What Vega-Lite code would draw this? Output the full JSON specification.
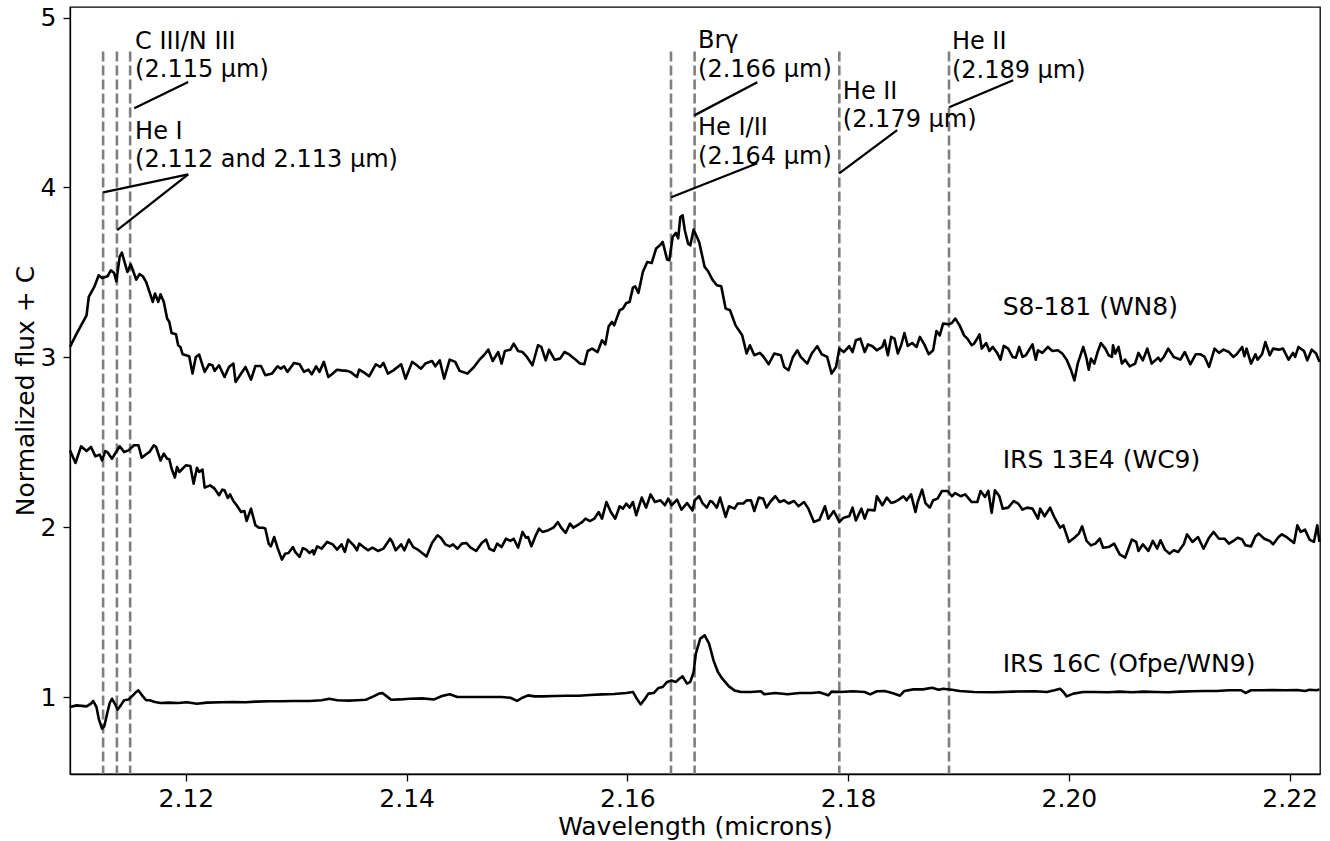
{
  "$schema": "https://vega.github.io/schema/vega-lite/v6.json",
  "width": 1250,
  "height": 767,
  "autosize": {"type": "none"},
  "padding": {"left": 70, "top": 7, "right": 10, "bottom": 67},
  "background": "white",
  "config": {
    "font": "DejaVu Sans",
    "view": {"stroke": "#000", "strokeWidth": 1.3},
    "axis": {"grid": false, "domainColor": "#000", "domainWidth": 1.3, "tickColor": "#000", "tickWidth": 1.3, "tickSize": 7, "labelFontSize": 25, "titleFontSize": 25, "labelColor": "#000", "titleColor": "#000", "titleFontWeight": "normal", "labelFont": "DejaVu Sans", "titleFont": "DejaVu Sans", "labelFlush": false}
  },
  "datasets": {
    "s8": [
{"x":2.1095,"y":3.061},{"x":2.1101,"y":3.139},{"x":2.1110,"y":3.247},{"x":2.1112,"y":3.355},{"x":2.1117,"y":3.414},{"x":2.1121,"y":3.483},{"x":2.1124,"y":3.467},{"x":2.1129,"y":3.477},{"x":2.1132,"y":3.512},{"x":2.1135,"y":3.496},{"x":2.1137,"y":3.447},{"x":2.1140,"y":3.591},{"x":2.1142,"y":3.616},{"x":2.1144,"y":3.571},{"x":2.1147,"y":3.502},{"x":2.1150,"y":3.547},{"x":2.1152,"y":3.512},{"x":2.1155,"y":3.457},{"x":2.1158,"y":3.489},{"x":2.1161,"y":3.477},{"x":2.1164,"y":3.443},{"x":2.1167,"y":3.385},{"x":2.1170,"y":3.326},{"x":2.1172,"y":3.375},{"x":2.1175,"y":3.326},{"x":2.1177,"y":3.371},{"x":2.1180,"y":3.326},{"x":2.1183,"y":3.228},{"x":2.1185,"y":3.208},{"x":2.1187,"y":3.143},{"x":2.1191,"y":3.135},{"x":2.1193,"y":3.071},{"x":2.1195,"y":3.061},{"x":2.1197,"y":3.018},{"x":2.1203,"y":3.006},{"x":2.1206,"y":2.904},{"x":2.1209,"y":3.002},{"x":2.1212,"y":3.016},{"x":2.1217,"y":2.914},{"x":2.1221,"y":2.959},{"x":2.1224,"y":2.953},{"x":2.1226,"y":2.920},{"x":2.1230,"y":2.953},{"x":2.1235,"y":2.884},{"x":2.1239,"y":2.943},{"x":2.1243,"y":2.963},{"x":2.1245,"y":2.855},{"x":2.1249,"y":2.894},{"x":2.1254,"y":2.943},{"x":2.1259,"y":2.868},{"x":2.1263,"y":2.949},{"x":2.1268,"y":2.949},{"x":2.1272,"y":2.894},{"x":2.1278,"y":2.904},{"x":2.1283,"y":2.947},{"x":2.1286,"y":2.933},{"x":2.1289,"y":2.947},{"x":2.1292,"y":2.914},{"x":2.1298,"y":2.967},{"x":2.1303,"y":2.959},{"x":2.1307,"y":2.914},{"x":2.1311,"y":2.927},{"x":2.1314,"y":2.900},{"x":2.1318,"y":2.947},{"x":2.1321,"y":2.914},{"x":2.1325,"y":2.973},{"x":2.1329,"y":2.884},{"x":2.1333,"y":2.904},{"x":2.1337,"y":2.927},{"x":2.1341,"y":2.923},{"x":2.1346,"y":2.920},{"x":2.1349,"y":2.914},{"x":2.1355,"y":2.884},{"x":2.1357,"y":2.927},{"x":2.1362,"y":2.908},{"x":2.1366,"y":2.888},{"x":2.1372,"y":2.959},{"x":2.1376,"y":2.943},{"x":2.1379,"y":2.967},{"x":2.1383,"y":2.904},{"x":2.1388,"y":2.923},{"x":2.1395,"y":2.959},{"x":2.1399,"y":2.874},{"x":2.1405,"y":2.973},{"x":2.1408,"y":2.959},{"x":2.1413,"y":2.933},{"x":2.1417,"y":2.963},{"x":2.1423,"y":2.978},{"x":2.1426,"y":2.947},{"x":2.1430,"y":2.982},{"x":2.1434,"y":2.874},{"x":2.1439,"y":2.986},{"x":2.1444,"y":2.973},{"x":2.1448,"y":2.920},{"x":2.1455,"y":2.904},{"x":2.1461,"y":2.943},{"x":2.1466,"y":2.986},{"x":2.1470,"y":3.012},{"x":2.1474,"y":3.045},{"x":2.1478,"y":2.978},{"x":2.1483,"y":3.031},{"x":2.1486,"y":2.963},{"x":2.1489,"y":3.037},{"x":2.1494,"y":3.045},{"x":2.1497,"y":3.080},{"x":2.1501,"y":3.037},{"x":2.1505,"y":3.031},{"x":2.1509,"y":3.002},{"x":2.1514,"y":2.953},{"x":2.1519,"y":3.071},{"x":2.1522,"y":3.061},{"x":2.1526,"y":2.982},{"x":2.1529,"y":3.045},{"x":2.1534,"y":2.986},{"x":2.1539,"y":2.992},{"x":2.1543,"y":3.031},{"x":2.1547,"y":3.018},{"x":2.1552,"y":2.992},{"x":2.1557,"y":2.963},{"x":2.1561,"y":2.959},{"x":2.1564,"y":3.037},{"x":2.1568,"y":3.051},{"x":2.1573,"y":3.031},{"x":2.1577,"y":3.100},{"x":2.1580,"y":3.076},{"x":2.1583,"y":3.182},{"x":2.1586,"y":3.208},{"x":2.1588,"y":3.188},{"x":2.1593,"y":3.277},{"x":2.1596,"y":3.287},{"x":2.1599,"y":3.320},{"x":2.1602,"y":3.326},{"x":2.1605,"y":3.410},{"x":2.1607,"y":3.418},{"x":2.1610,"y":3.379},{"x":2.1614,"y":3.502},{"x":2.1618,"y":3.561},{"x":2.1622,"y":3.555},{"x":2.1626,"y":3.640},{"x":2.1630,"y":3.663},{"x":2.1632,"y":3.679},{"x":2.1636,"y":3.575},{"x":2.1638,"y":3.571},{"x":2.1641,"y":3.708},{"x":2.1644,"y":3.732},{"x":2.1646,"y":3.700},{"x":2.1648,"y":3.826},{"x":2.1650,"y":3.836},{"x":2.1652,"y":3.748},{"x":2.1655,"y":3.669},{"x":2.1657,"y":3.659},{"x":2.1660,"y":3.752},{"x":2.1665,"y":3.679},{"x":2.1670,"y":3.532},{"x":2.1673,"y":3.508},{"x":2.1677,"y":3.457},{"x":2.1681,"y":3.424},{"x":2.1685,"y":3.418},{"x":2.1689,"y":3.287},{"x":2.1693,"y":3.277},{"x":2.1698,"y":3.188},{"x":2.1704,"y":3.130},{"x":2.1708,"y":3.022},{"x":2.1711,"y":3.071},{"x":2.1715,"y":3.012},{"x":2.1720,"y":3.026},{"x":2.1723,"y":3.006},{"x":2.1728,"y":2.959},{"x":2.1733,"y":3.022},{"x":2.1739,"y":3.012},{"x":2.1742,"y":2.943},{"x":2.1746,"y":2.924},{"x":2.1750,"y":3.002},{"x":2.1754,"y":3.041},{"x":2.1757,"y":3.002},{"x":2.1763,"y":2.963},{"x":2.1767,"y":3.022},{"x":2.1772,"y":3.065},{"x":2.1776,"y":3.018},{"x":2.1781,"y":3.002},{"x":2.1785,"y":2.904},{"x":2.1789,"y":2.943},{"x":2.1792,"y":3.051},{"x":2.1796,"y":3.031},{"x":2.1801,"y":3.065},{"x":2.1804,"y":3.031},{"x":2.1807,"y":3.100},{"x":2.1811,"y":3.110},{"x":2.1815,"y":3.031},{"x":2.1818,"y":3.076},{"x":2.1822,"y":3.065},{"x":2.1826,"y":3.041},{"x":2.1831,"y":3.061},{"x":2.1833,"y":3.100},{"x":2.1836,"y":3.012},{"x":2.1839,"y":3.120},{"x":2.1842,"y":3.110},{"x":2.1845,"y":3.022},{"x":2.1848,"y":3.071},{"x":2.1851,"y":3.143},{"x":2.1854,"y":3.067},{"x":2.1858,"y":3.084},{"x":2.1862,"y":3.061},{"x":2.1865,"y":3.120},{"x":2.1869,"y":3.076},{"x":2.1873,"y":3.018},{"x":2.1877,"y":3.041},{"x":2.1880,"y":3.155},{"x":2.1883,"y":3.129},{"x":2.1886,"y":3.198},{"x":2.1891,"y":3.194},{"x":2.1894,"y":3.202},{"x":2.1897,"y":3.228},{"x":2.1901,"y":3.188},{"x":2.1905,"y":3.129},{"x":2.1908,"y":3.110},{"x":2.1912,"y":3.071},{"x":2.1914,"y":3.080},{"x":2.1916,"y":3.100},{"x":2.1919,"y":3.135},{"x":2.1921,"y":3.051},{"x":2.1925,"y":3.084},{"x":2.1928,"y":3.037},{"x":2.1931,"y":3.061},{"x":2.1935,"y":3.026},{"x":2.1938,"y":2.986},{"x":2.1941,"y":3.067},{"x":2.1945,"y":3.051},{"x":2.1949,"y":3.002},{"x":2.1952,"y":2.998},{"x":2.1955,"y":3.061},{"x":2.1958,"y":3.002},{"x":2.1961,"y":3.012},{"x":2.1967,"y":3.076},{"x":2.1970,"y":2.986},{"x":2.1972,"y":3.041},{"x":2.1976,"y":3.026},{"x":2.1981,"y":3.061},{"x":2.1985,"y":3.037},{"x":2.1990,"y":3.041},{"x":2.1994,"y":3.022},{"x":2.1998,"y":2.986},{"x":2.2002,"y":2.923},{"x":2.2005,"y":2.864},{"x":2.2008,"y":2.963},{"x":2.2013,"y":3.061},{"x":2.2016,"y":2.992},{"x":2.2018,"y":2.927},{"x":2.2020,"y":2.992},{"x":2.2023,"y":2.963},{"x":2.2026,"y":3.031},{"x":2.2029,"y":3.084},{"x":2.2033,"y":3.051},{"x":2.2036,"y":3.012},{"x":2.2039,"y":3.002},{"x":2.2040,"y":3.071},{"x":2.2042,"y":3.022},{"x":2.2045,"y":3.061},{"x":2.2048,"y":2.963},{"x":2.2051,"y":2.986},{"x":2.2055,"y":2.947},{"x":2.2060,"y":2.963},{"x":2.2063,"y":3.026},{"x":2.2067,"y":2.982},{"x":2.2071,"y":3.051},{"x":2.2075,"y":2.963},{"x":2.2081,"y":2.998},{"x":2.2083,"y":2.978},{"x":2.2086,"y":3.002},{"x":2.2090,"y":3.051},{"x":2.2095,"y":3.002},{"x":2.2101,"y":2.986},{"x":2.2105,"y":3.031},{"x":2.2110,"y":2.959},{"x":2.2115,"y":3.018},{"x":2.2119,"y":3.018},{"x":2.2123,"y":3.002},{"x":2.2127,"y":2.943},{"x":2.2132,"y":3.051},{"x":2.2136,"y":3.026},{"x":2.2140,"y":3.045},{"x":2.2145,"y":3.031},{"x":2.2149,"y":3.002},{"x":2.2152,"y":3.018},{"x":2.2157,"y":3.061},{"x":2.2159,"y":3.006},{"x":2.2161,"y":3.051},{"x":2.2165,"y":2.963},{"x":2.2169,"y":3.018},{"x":2.2171,"y":2.986},{"x":2.2175,"y":3.018},{"x":2.2178,"y":3.090},{"x":2.2182,"y":3.012},{"x":2.2185,"y":3.051},{"x":2.2190,"y":3.045},{"x":2.2194,"y":3.051},{"x":2.2199,"y":2.986},{"x":2.2203,"y":3.026},{"x":2.2205,"y":3.002},{"x":2.2208,"y":3.061},{"x":2.2213,"y":3.037},{"x":2.2216,"y":2.982},{"x":2.2220,"y":3.045},{"x":2.2224,"y":3.022},{"x":2.2227,"y":2.973}
    ],
    "e4": [
{"x":2.1095,"y":2.452},{"x":2.1100,"y":2.378},{"x":2.1105,"y":2.476},{"x":2.1110,"y":2.448},{"x":2.1114,"y":2.472},{"x":2.1118,"y":2.417},{"x":2.1122,"y":2.427},{"x":2.1124,"y":2.393},{"x":2.1127,"y":2.448},{"x":2.1129,"y":2.441},{"x":2.1133,"y":2.403},{"x":2.1140,"y":2.476},{"x":2.1144,"y":2.443},{"x":2.1148,"y":2.452},{"x":2.1153,"y":2.482},{"x":2.1157,"y":2.482},{"x":2.1160,"y":2.409},{"x":2.1164,"y":2.429},{"x":2.1167,"y":2.443},{"x":2.1171,"y":2.482},{"x":2.1173,"y":2.472},{"x":2.1177,"y":2.393},{"x":2.1180,"y":2.433},{"x":2.1183,"y":2.403},{"x":2.1185,"y":2.400},{"x":2.1187,"y":2.345},{"x":2.1190,"y":2.292},{"x":2.1192,"y":2.354},{"x":2.1194,"y":2.325},{"x":2.1200,"y":2.364},{"x":2.1204,"y":2.360},{"x":2.1207,"y":2.256},{"x":2.1210,"y":2.350},{"x":2.1212,"y":2.325},{"x":2.1215,"y":2.339},{"x":2.1217,"y":2.233},{"x":2.1222,"y":2.246},{"x":2.1226,"y":2.227},{"x":2.1230,"y":2.188},{"x":2.1233,"y":2.221},{"x":2.1235,"y":2.217},{"x":2.1238,"y":2.172},{"x":2.1240,"y":2.193},{"x":2.1243,"y":2.154},{"x":2.1246,"y":2.129},{"x":2.1250,"y":2.089},{"x":2.1253,"y":2.095},{"x":2.1255,"y":2.036},{"x":2.1259,"y":2.109},{"x":2.1263,"y":2.011},{"x":2.1266,"y":1.997},{"x":2.1270,"y":1.997},{"x":2.1272,"y":1.991},{"x":2.1275,"y":1.903},{"x":2.1277,"y":1.887},{"x":2.1280,"y":1.942},{"x":2.1283,"y":1.879},{"x":2.1287,"y":1.809},{"x":2.1290,"y":1.844},{"x":2.1293,"y":1.848},{"x":2.1297,"y":1.883},{"x":2.1299,"y":1.854},{"x":2.1303,"y":1.825},{"x":2.1306,"y":1.877},{"x":2.1309,"y":1.868},{"x":2.1312,"y":1.848},{"x":2.1315,"y":1.864},{"x":2.1316,"y":1.840},{"x":2.1319,"y":1.887},{"x":2.1323,"y":1.874},{"x":2.1328,"y":1.913},{"x":2.1333,"y":1.899},{"x":2.1337,"y":1.868},{"x":2.1341,"y":1.899},{"x":2.1344,"y":1.854},{"x":2.1347,"y":1.927},{"x":2.1352,"y":1.893},{"x":2.1355,"y":1.864},{"x":2.1357,"y":1.903},{"x":2.1361,"y":1.883},{"x":2.1365,"y":1.864},{"x":2.1369,"y":1.879},{"x":2.1374,"y":1.860},{"x":2.1379,"y":1.874},{"x":2.1385,"y":1.932},{"x":2.1387,"y":1.913},{"x":2.1390,"y":1.864},{"x":2.1395,"y":1.899},{"x":2.1398,"y":1.864},{"x":2.1402,"y":1.927},{"x":2.1406,"y":1.883},{"x":2.1410,"y":1.868},{"x":2.1414,"y":1.848},{"x":2.1418,"y":1.828},{"x":2.1423,"y":1.907},{"x":2.1428,"y":1.952},{"x":2.1431,"y":1.938},{"x":2.1435,"y":1.899},{"x":2.1439,"y":1.887},{"x":2.1442,"y":1.899},{"x":2.1446,"y":1.873},{"x":2.1450,"y":1.903},{"x":2.1454,"y":1.907},{"x":2.1458,"y":1.879},{"x":2.1463,"y":1.860},{"x":2.1468,"y":1.907},{"x":2.1472,"y":1.927},{"x":2.1475,"y":1.873},{"x":2.1479,"y":1.860},{"x":2.1482,"y":1.903},{"x":2.1486,"y":1.883},{"x":2.1490,"y":1.932},{"x":2.1494,"y":1.919},{"x":2.1497,"y":1.932},{"x":2.1501,"y":1.879},{"x":2.1505,"y":1.972},{"x":2.1508,"y":1.938},{"x":2.1510,"y":1.942},{"x":2.1513,"y":1.887},{"x":2.1517,"y":1.952},{"x":2.1520,"y":1.991},{"x":2.1523,"y":1.972},{"x":2.1528,"y":1.981},{"x":2.1533,"y":1.997},{"x":2.1537,"y":2.030},{"x":2.1540,"y":1.997},{"x":2.1544,"y":1.966},{"x":2.1548,"y":2.021},{"x":2.1551,"y":1.997},{"x":2.1556,"y":2.017},{"x":2.1559,"y":2.030},{"x":2.1562,"y":2.050},{"x":2.1566,"y":2.036},{"x":2.1570,"y":2.050},{"x":2.1574,"y":2.089},{"x":2.1577,"y":2.050},{"x":2.1581,"y":2.148},{"x":2.1585,"y":2.089},{"x":2.1589,"y":2.050},{"x":2.1593,"y":2.123},{"x":2.1596,"y":2.109},{"x":2.1599,"y":2.139},{"x":2.1602,"y":2.115},{"x":2.1605,"y":2.148},{"x":2.1608,"y":2.070},{"x":2.1613,"y":2.174},{"x":2.1617,"y":2.115},{"x":2.1621,"y":2.193},{"x":2.1625,"y":2.148},{"x":2.1630,"y":2.158},{"x":2.1634,"y":2.129},{"x":2.1637,"y":2.168},{"x":2.1640,"y":2.129},{"x":2.1645,"y":2.162},{"x":2.1649,"y":2.103},{"x":2.1654,"y":2.142},{"x":2.1659,"y":2.099},{"x":2.1661,"y":2.158},{"x":2.1665,"y":2.182},{"x":2.1668,"y":2.142},{"x":2.1672,"y":2.115},{"x":2.1675,"y":2.154},{"x":2.1677,"y":2.148},{"x":2.1681,"y":2.115},{"x":2.1684,"y":2.174},{"x":2.1689,"y":2.060},{"x":2.1692,"y":2.123},{"x":2.1697,"y":2.109},{"x":2.1700,"y":2.139},{"x":2.1705,"y":2.139},{"x":2.1708,"y":2.158},{"x":2.1712,"y":2.158},{"x":2.1715,"y":2.095},{"x":2.1719,"y":2.174},{"x":2.1723,"y":2.168},{"x":2.1726,"y":2.115},{"x":2.1730,"y":2.154},{"x":2.1734,"y":2.182},{"x":2.1738,"y":2.148},{"x":2.1742,"y":2.158},{"x":2.1746,"y":2.139},{"x":2.1751,"y":2.154},{"x":2.1755,"y":2.123},{"x":2.1760,"y":2.148},{"x":2.1764,"y":2.109},{"x":2.1769,"y":2.031},{"x":2.1774,"y":2.044},{"x":2.1779,"y":2.123},{"x":2.1782,"y":2.050},{"x":2.1787,"y":2.095},{"x":2.1792,"y":2.031},{"x":2.1796,"y":2.056},{"x":2.1801,"y":2.064},{"x":2.1804,"y":2.115},{"x":2.1807,"y":2.040},{"x":2.1812,"y":2.109},{"x":2.1815,"y":2.050},{"x":2.1818,"y":2.103},{"x":2.1824,"y":2.099},{"x":2.1826,"y":2.182},{"x":2.1831,"y":2.129},{"x":2.1835,"y":2.174},{"x":2.1839,"y":2.142},{"x":2.1842,"y":2.148},{"x":2.1846,"y":2.162},{"x":2.1850,"y":2.182},{"x":2.1853,"y":2.158},{"x":2.1857,"y":2.193},{"x":2.1861,"y":2.089},{"x":2.1863,"y":2.148},{"x":2.1867,"y":2.221},{"x":2.1870,"y":2.142},{"x":2.1874,"y":2.115},{"x":2.1877,"y":2.158},{"x":2.1881,"y":2.168},{"x":2.1885,"y":2.213},{"x":2.1890,"y":2.213},{"x":2.1894,"y":2.182},{"x":2.1897,"y":2.201},{"x":2.1902,"y":2.182},{"x":2.1906,"y":2.193},{"x":2.1912,"y":2.148},{"x":2.1917,"y":2.148},{"x":2.1920,"y":2.213},{"x":2.1924,"y":2.178},{"x":2.1927,"y":2.213},{"x":2.1930,"y":2.084},{"x":2.1933,"y":2.217},{"x":2.1937,"y":2.182},{"x":2.1940,"y":2.109},{"x":2.1945,"y":2.115},{"x":2.1950,"y":2.154},{"x":2.1954,"y":2.139},{"x":2.1958,"y":2.103},{"x":2.1962,"y":2.115},{"x":2.1967,"y":2.109},{"x":2.1972,"y":2.050},{"x":2.1974,"y":2.109},{"x":2.1978,"y":2.064},{"x":2.1983,"y":2.115},{"x":2.1987,"y":2.056},{"x":2.1992,"y":1.997},{"x":2.1995,"y":2.011},{"x":2.2000,"y":1.913},{"x":2.2005,"y":1.938},{"x":2.2009,"y":1.962},{"x":2.2012,"y":2.005},{"x":2.2016,"y":1.919},{"x":2.2020,"y":1.893},{"x":2.2024,"y":1.903},{"x":2.2028,"y":1.932},{"x":2.2031,"y":1.879},{"x":2.2036,"y":1.883},{"x":2.2041,"y":1.903},{"x":2.2046,"y":1.840},{"x":2.2051,"y":1.821},{"x":2.2057,"y":1.927},{"x":2.2061,"y":1.913},{"x":2.2063,"y":1.860},{"x":2.2067,"y":1.899},{"x":2.2072,"y":1.860},{"x":2.2076,"y":1.919},{"x":2.2080,"y":1.874},{"x":2.2083,"y":1.923},{"x":2.2087,"y":1.868},{"x":2.2091,"y":1.844},{"x":2.2095,"y":1.864},{"x":2.2099,"y":1.854},{"x":2.2104,"y":1.899},{"x":2.2107,"y":1.958},{"x":2.2112,"y":1.913},{"x":2.2117,"y":1.942},{"x":2.2122,"y":1.873},{"x":2.2127,"y":1.938},{"x":2.2131,"y":1.972},{"x":2.2136,"y":1.932},{"x":2.2141,"y":1.932},{"x":2.2145,"y":1.903},{"x":2.2149,"y":1.919},{"x":2.2153,"y":1.938},{"x":2.2157,"y":1.927},{"x":2.2160,"y":1.893},{"x":2.2165,"y":1.887},{"x":2.2169,"y":1.946},{"x":2.2172,"y":1.962},{"x":2.2177,"y":1.932},{"x":2.2182,"y":1.919},{"x":2.2185,"y":1.899},{"x":2.2190,"y":1.942},{"x":2.2193,"y":1.958},{"x":2.2198,"y":1.938},{"x":2.2204,"y":1.907},{"x":2.2207,"y":2.011},{"x":2.2210,"y":1.972},{"x":2.2214,"y":1.985},{"x":2.2218,"y":1.927},{"x":2.2222,"y":1.913},{"x":2.2225,"y":2.011},{"x":2.2227,"y":1.913}
    ],
    "c16": [
{"x":2.1095,"y":0.941},{"x":2.1101,"y":0.951},{"x":2.1110,"y":0.945},{"x":2.1114,"y":0.961},{"x":2.1116,"y":0.977},{"x":2.1119,"y":0.941},{"x":2.1121,"y":0.873},{"x":2.1124,"y":0.814},{"x":2.1126,"y":0.827},{"x":2.1129,"y":0.912},{"x":2.1131,"y":0.965},{"x":2.1133,"y":0.990},{"x":2.1136,"y":0.957},{"x":2.1138,"y":0.926},{"x":2.1141,"y":0.951},{"x":2.1144,"y":0.981},{"x":2.1148,"y":0.986},{"x":2.1152,"y":1.010},{"x":2.1155,"y":1.030},{"x":2.1157,"y":1.039},{"x":2.1161,"y":1.004},{"x":2.1164,"y":0.981},{"x":2.1167,"y":0.981},{"x":2.1172,"y":0.971},{"x":2.1177,"y":0.965},{"x":2.1184,"y":0.967},{"x":2.1193,"y":0.965},{"x":2.1201,"y":0.969},{"x":2.1210,"y":0.961},{"x":2.1219,"y":0.967},{"x":2.1232,"y":0.969},{"x":2.1243,"y":0.971},{"x":2.1254,"y":0.969},{"x":2.1264,"y":0.973},{"x":2.1275,"y":0.975},{"x":2.1286,"y":0.975},{"x":2.1297,"y":0.977},{"x":2.1312,"y":0.977},{"x":2.1323,"y":0.981},{"x":2.1330,"y":0.990},{"x":2.1337,"y":0.981},{"x":2.1348,"y":0.979},{"x":2.1355,"y":0.981},{"x":2.1363,"y":0.984},{"x":2.1370,"y":1.004},{"x":2.1375,"y":1.020},{"x":2.1378,"y":1.024},{"x":2.1382,"y":1.004},{"x":2.1386,"y":0.984},{"x":2.1394,"y":0.986},{"x":2.1403,"y":0.990},{"x":2.1414,"y":0.992},{"x":2.1425,"y":0.986},{"x":2.1432,"y":1.006},{"x":2.1439,"y":1.016},{"x":2.1446,"y":1.000},{"x":2.1454,"y":1.000},{"x":2.1465,"y":1.000},{"x":2.1476,"y":1.000},{"x":2.1486,"y":1.000},{"x":2.1494,"y":0.996},{"x":2.1500,"y":0.977},{"x":2.1505,"y":0.996},{"x":2.1510,"y":1.010},{"x":2.1516,"y":1.004},{"x":2.1523,"y":1.004},{"x":2.1534,"y":1.006},{"x":2.1545,"y":1.008},{"x":2.1556,"y":1.008},{"x":2.1566,"y":1.012},{"x":2.1577,"y":1.016},{"x":2.1588,"y":1.018},{"x":2.1599,"y":1.024},{"x":2.1605,"y":1.030},{"x":2.1608,"y":0.996},{"x":2.1612,"y":0.957},{"x":2.1616,"y":0.990},{"x":2.1619,"y":1.020},{"x":2.1624,"y":1.024},{"x":2.1628,"y":1.053},{"x":2.1632,"y":1.059},{"x":2.1636,"y":1.089},{"x":2.1640,"y":1.098},{"x":2.1644,"y":1.089},{"x":2.1647,"y":1.108},{"x":2.1650,"y":1.122},{"x":2.1654,"y":1.079},{"x":2.1657,"y":1.089},{"x":2.1660,"y":1.147},{"x":2.1662,"y":1.255},{"x":2.1666,"y":1.344},{"x":2.1670,"y":1.363},{"x":2.1674,"y":1.314},{"x":2.1678,"y":1.216},{"x":2.1682,"y":1.147},{"x":2.1686,"y":1.108},{"x":2.1692,"y":1.063},{"x":2.1697,"y":1.039},{"x":2.1703,"y":1.030},{"x":2.1712,"y":1.030},{"x":2.1721,"y":1.034},{"x":2.1724,"y":1.016},{"x":2.1734,"y":1.024},{"x":2.1745,"y":1.016},{"x":2.1756,"y":1.024},{"x":2.1767,"y":1.024},{"x":2.1774,"y":1.028},{"x":2.1782,"y":1.010},{"x":2.1785,"y":1.032},{"x":2.1793,"y":1.030},{"x":2.1804,"y":1.034},{"x":2.1815,"y":1.030},{"x":2.1820,"y":1.016},{"x":2.1826,"y":1.034},{"x":2.1833,"y":1.036},{"x":2.1840,"y":1.024},{"x":2.1847,"y":1.008},{"x":2.1851,"y":1.036},{"x":2.1859,"y":1.045},{"x":2.1868,"y":1.045},{"x":2.1876,"y":1.055},{"x":2.1882,"y":1.043},{"x":2.1886,"y":1.049},{"x":2.1894,"y":1.043},{"x":2.1901,"y":1.036},{"x":2.1914,"y":1.030},{"x":2.1932,"y":1.028},{"x":2.1950,"y":1.032},{"x":2.1969,"y":1.034},{"x":2.1980,"y":1.030},{"x":2.1987,"y":1.040},{"x":2.1992,"y":1.049},{"x":2.1995,"y":1.030},{"x":2.1998,"y":1.004},{"x":2.2004,"y":1.020},{"x":2.2013,"y":1.030},{"x":2.2024,"y":1.030},{"x":2.2035,"y":1.028},{"x":2.2046,"y":1.032},{"x":2.2057,"y":1.028},{"x":2.2068,"y":1.032},{"x":2.2079,"y":1.030},{"x":2.2090,"y":1.028},{"x":2.2101,"y":1.032},{"x":2.2112,"y":1.034},{"x":2.2123,"y":1.036},{"x":2.2134,"y":1.036},{"x":2.2145,"y":1.040},{"x":2.2156,"y":1.040},{"x":2.2160,"y":1.024},{"x":2.2165,"y":1.040},{"x":2.2174,"y":1.040},{"x":2.2185,"y":1.041},{"x":2.2196,"y":1.040},{"x":2.2207,"y":1.041},{"x":2.2214,"y":1.036},{"x":2.2218,"y":1.043},{"x":2.2224,"y":1.040},{"x":2.2227,"y":1.044}
    ],
    "vlines": [
      {"x":2.1125,"y":4.8,"y2":0.547},{"x":2.11375,"y":4.8,"y2":0.547},{"x":2.11495,"y":4.8,"y2":0.547},{"x":2.16395,"y":4.8,"y2":0.547},{"x":2.16609,"y":4.8,"y2":0.547},{"x":2.1792,"y":4.8,"y2":0.547},{"x":2.18914,"y":4.8,"y2":0.547}
    ],
    "leaders": [
      {"x":2.11532,"y":4.466,"x2":2.12021,"y2":4.620},
      {"x":2.11251,"y":3.971,"x2":2.12021,"y2":4.077},
      {"x":2.11378,"y":3.748,"x2":2.12021,"y2":4.077},
      {"x":2.16606,"y":4.424,"x2":2.17177,"y2":4.619},
      {"x":2.16397,"y":3.942,"x2":2.17177,"y2":4.142},
      {"x":2.17919,"y":4.083,"x2":2.18444,"y2":4.337},
      {"x":2.18915,"y":4.472,"x2":2.19495,"y2":4.631}
    ],
    "notes": [
      {"x":2.1154,"y":4.8175,"t":"C III/N III"},
      {"x":2.1154,"y":4.648,"t":"(2.115 μm)"},
      {"x":2.1154,"y":4.2876,"t":"He I"},
      {"x":2.1154,"y":4.118,"t":"(2.112 and 2.113 μm)"},
      {"x":2.1664,"y":4.821,"t":"Brγ"},
      {"x":2.1664,"y":4.651,"t":"(2.166 μm)"},
      {"x":2.1664,"y":4.307,"t":"He I/II"},
      {"x":2.1664,"y":4.1375,"t":"(2.164 μm)"},
      {"x":2.17952,"y":4.523,"t":"He II"},
      {"x":2.17952,"y":4.3535,"t":"(2.179 μm)"},
      {"x":2.1894,"y":4.8134,"t":"He II"},
      {"x":2.1894,"y":4.6438,"t":"(2.189 μm)"}
    ],
    "names": [
      {"x":2.194,"y":3.25,"t":"S8-181 (WN8)"},
      {"x":2.194,"y":2.35,"t":"IRS 13E4 (WC9)"},
      {"x":2.194,"y":1.15,"t":"IRS 16C (Ofpe/WN9)"}
    ]
  },
  "encoding": {
    "x": {"field": "x", "type": "quantitative", "scale": {"domain": [2.1095, 2.22275], "nice": false, "zero": false}, "axis": {"title": "Wavelength (microns)", "values": [2.12, 2.14, 2.16, 2.18, 2.2, 2.22], "format": ".2f", "labelPadding": 5, "titlePadding": 3}},
    "y": {"field": "y", "type": "quantitative", "scale": {"domain": [0.547, 5.062], "nice": false, "zero": false}, "axis": {"title": "Normalized flux + C", "values": [1, 2, 3, 4, 5], "format": "d", "labelPadding": 7, "titlePadding": 2}}
  },
  "layer": [
    {"data": {"name": "vlines"}, "mark": {"type": "rule", "color": "#7f7f7f", "strokeWidth": 2.6, "strokeDash": [10, 4]}, "encoding": {"y2": {"field": "y2"}}},
    {"data": {"name": "s8"}, "mark": {"type": "line", "color": "#000", "strokeWidth": 2.6, "strokeJoin": "round"}},
    {"data": {"name": "e4"}, "mark": {"type": "line", "color": "#000", "strokeWidth": 2.6, "strokeJoin": "round"}},
    {"data": {"name": "c16"}, "mark": {"type": "line", "color": "#000", "strokeWidth": 2.6, "strokeJoin": "round"}},
    {"data": {"name": "leaders"}, "mark": {"type": "rule", "color": "#000", "strokeWidth": 2.3}, "encoding": {"x2": {"field": "x2"}, "y2": {"field": "y2"}}},
    {"data": {"name": "notes"}, "mark": {"type": "text", "align": "left", "baseline": "alphabetic", "fontSize": 24, "color": "#000", "font": "DejaVu Sans"}, "encoding": {"text": {"field": "t"}}},
    {"data": {"name": "names"}, "mark": {"type": "text", "align": "left", "baseline": "alphabetic", "fontSize": 25, "color": "#000", "font": "DejaVu Sans"}, "encoding": {"text": {"field": "t"}}}
  ]
}
